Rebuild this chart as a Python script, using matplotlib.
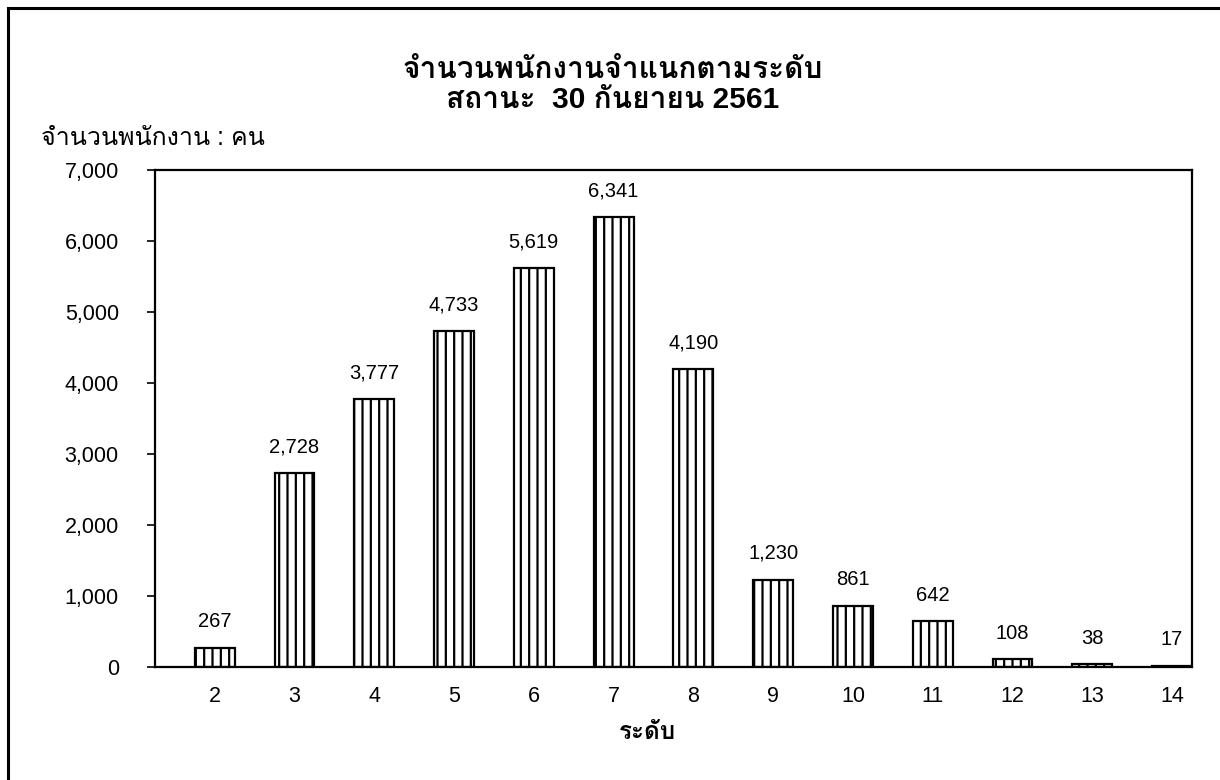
import matplotlib
matplotlib.use("Agg")
import matplotlib.pyplot as plt
import matplotlib.patches as patches

# ข้อมูลจำนวนพนักงานตามระดับ
levels = ["2", "3", "4", "5", "6", "7", "8", "9", "10", "11", "12", "13", "14"]
counts = [267, 2728, 3777, 4733, 5619, 6341, 4190, 1230, 861, 642, 108, 38, 17]
yticks = [0, 1000, 2000, 3000, 4000, 5000, 6000, 7000]

title_line1 = "จำนวนพนักงานจำแนกตามระดับ"
title_line2 = "สถานะ  30 กันยายน 2561"
ylabel = "จำนวนพนักงาน : คน"
xlabel = "ระดับ"

# Liberation Sans สำหรับตัวเลข, Loma สำหรับอักษรไทย
plt.rcParams["font.family"] = ["Liberation Sans", "Loma", "DejaVu Sans"]
plt.rcParams["hatch.linewidth"] = 1.6
plt.rcParams["hatch.color"] = "black"

fig = plt.figure(figsize=(12.2, 7.8), dpi=100)
ax = fig.add_axes([0.127, 0.145, 0.850, 0.637])

x = list(range(len(levels)))
ax.bar(x, counts, width=0.5, color="white", edgecolor="black",
       linewidth=1.6, hatch="||")

for xi, c in zip(x, counts):
    ax.annotate(f"{c:,}", (xi, c), xytext=(0, 12), textcoords="offset points",
                ha="center", va="bottom", fontsize=14.5)

ax.set_xlim(-0.75, len(levels) - 0.75)
ax.set_ylim(0, 7000)
ax.set_yticks(yticks)
ax.set_yticklabels([f"{v:,}" for v in yticks], fontsize=15.5)
ax.set_xticks(x)
ax.set_xticklabels(levels, fontsize=15.5)
ax.tick_params(axis="x", length=0, pad=14)
ax.tick_params(axis="y", direction="out", length=6, width=1.2, pad=20)

for s in ax.spines.values():
    s.set_linewidth(1.6)

ax.set_xlabel(xlabel, fontsize=17.5, fontweight="bold")
ax.xaxis.set_label_coords(0.475, -0.108)

fig.text(0.502, 0.910, title_line1, ha="center", va="center",
         fontsize=21.5, fontweight="bold")
fig.text(0.502, 0.872, title_line2, ha="center", va="center",
         fontsize=21.5, fontweight="bold")
fig.text(0.034, 0.823, ylabel, ha="left", va="center", fontsize=18)

# กรอบรอบแผนภูมิ
frame = patches.Rectangle((8 / 1220, -0.1), 1.2, 1 - 8 / 780 + 0.1,
                          transform=fig.transFigure, fill=False,
                          edgecolor="black", linewidth=2.2, clip_on=False)
fig.patches.append(frame)

fig.savefig("out.png", dpi=100)
